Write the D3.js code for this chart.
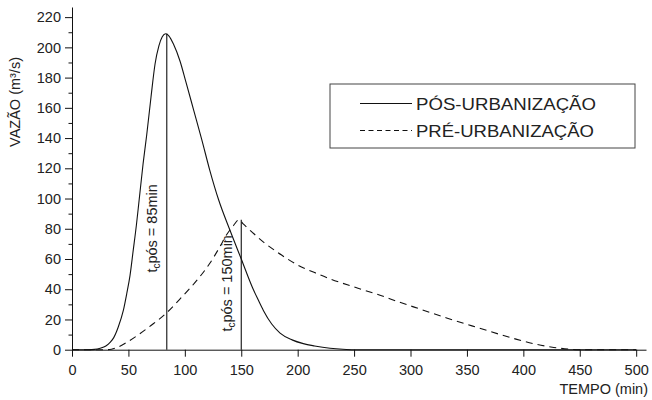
<!DOCTYPE html>
<html>
<head>
<meta charset="utf-8">
<script src="https://cdn.jsdelivr.net/npm/d3@7"></script>
<style>
body { margin: 0; background: #fff; }
text { font-family: "Liberation Sans", Arial, sans-serif; fill: #222; }
</style>
</head>
<body>
<script>
// hidrograma pos-urbanizacao (linha cheia)
var posTime = [0, 15, 20, 25, 30, 34, 37, 41, 45.5, 48.5, 51.4, 54.3, 57, 59.5, 63, 66.2, 70, 73.6, 77, 80, 83,
    86, 90, 95.7, 101, 108, 115, 122, 130, 140, 150, 160, 165, 169.6, 177, 184.4, 195, 205, 215, 228.7, 240, 250, 500];
var posFlow = [0, 0, 0.2, 1, 2.5, 5, 8, 15, 26, 37, 49, 66, 82, 99, 123, 142, 167, 189, 201, 207, 209,
    207.5, 202, 191, 177, 158, 139, 119, 99, 79, 60, 41, 33, 26, 17, 11, 6.5, 4, 2.5, 1, 0.3, 0, 0];

// hidrograma pre-urbanizacao (tracejada)
var preTime = [0, 30, 35, 40, 50, 60, 70, 84, 95, 105, 113, 122, 131, 137, 143, 148,
    152, 160, 170, 180, 190, 200, 215, 230, 250, 273, 290, 310, 332, 360, 391, 410, 427, 440, 450, 500];
var preFlow = [0, 0, 0.3, 1.5, 5.5, 10.5, 16, 24.5, 33, 41, 48, 57, 68, 76, 82, 86,
    83, 77.5, 71, 65.5, 60.5, 56, 51, 46.5, 41.5, 36, 31.5, 26.5, 21, 14.5, 7.5, 3.8, 1.5, 0.4, 0, 0];

// tempos de concentracao
var tcTime = [84, 150];
var tcTop = [209, 86];
var tcLabelAt = [51, 12];
var tcText = ["pós = 85min", "pós = 150min"];

var xTickValues = [0, 50, 100, 150, 200, 250, 300, 350, 400, 450, 500];
var yTickValues = [0, 20, 40, 60, 80, 100, 120, 140, 160, 180, 200, 220];
var yMinorValues = [10, 30, 50, 70, 90, 110, 130, 150, 170, 190, 210];
var seriesNames = ["PÓS-URBANIZAÇÃO", "PRÉ-URBANIZAÇÃO"];

var width = 652, height = 400;

var svg = d3.select("body").append("svg")
    .attr("width", width)
    .attr("height", height);

var x = d3.scaleLinear().domain([0, 508.7]).range([72, 646]);
var y = d3.scaleLinear().domain([0, 226.7]).range([349.7, 7]);

// eixos
var xAxis = svg.append("g")
    .attr("transform", "translate(0," + y(0) + ")")
    .call(d3.axisBottom(x).tickValues(xTickValues).tickSize(7).tickSizeOuter(0).tickPadding(8));

var yMinor = svg.append("g")
    .attr("transform", "translate(" + x(0) + ",0)")
    .call(d3.axisLeft(y).tickValues(yMinorValues).tickSize(3.5).tickFormat(""));
yMinor.select(".domain").remove();

var yAxis = svg.append("g")
    .attr("transform", "translate(" + x(0) + ",0)")
    .call(d3.axisLeft(y).tickValues(yTickValues).tickSize(7).tickSizeOuter(0).tickPadding(4));

svg.selectAll(".tick text")
    .style("font-size", "14.5px")
    .style("font-family", "'Liberation Sans', Arial, sans-serif")
    .attr("fill", "#222");
svg.selectAll(".domain, .tick line").attr("stroke", "#111");

// curvas
var line = d3.line()
    .x(function(d) { return x(d[0]); })
    .y(function(d) { return y(d[1]); })
    .curve(d3.curveMonotoneX);

svg.append("path")
    .datum(d3.zip(posTime, posFlow))
    .attr("d", line)
    .attr("fill", "none")
    .attr("stroke", "#111")
    .attr("stroke-width", 1.1);

svg.append("path")
    .datum(d3.zip(preTime, preFlow))
    .attr("d", line)
    .attr("fill", "none")
    .attr("stroke", "#111")
    .attr("stroke-width", 1.1)
    .attr("stroke-dasharray", "7,5");

// linhas verticais tc
for (var i = 0; i < tcTime.length; i++) {
    svg.append("line")
        .attr("x1", x(tcTime[i])).attr("x2", x(tcTime[i]))
        .attr("y1", y(0)).attr("y2", y(tcTop[i]))
        .attr("stroke", "#111")
        .attr("stroke-width", 1.1);

    var lbl = svg.append("text")
        .attr("transform", "translate(" + (x(tcTime[i]) - 9.5) + "," + y(tcLabelAt[i]) + ") rotate(-90)")
        .style("font-size", "14.5px");
    lbl.append("tspan").text("t");
    lbl.append("tspan").attr("dy", 3).style("font-size", "10px").text("c");
    lbl.append("tspan").attr("dy", -3).text(tcText[i]);
}

// titulos
svg.append("text")
    .attr("transform", "translate(20,102) rotate(-90)")
    .attr("text-anchor", "middle")
    .style("font-size", "14.5px")
    .text("VAZÃO (m³/s)");

svg.append("text")
    .attr("x", 648)
    .attr("y", 394)
    .attr("text-anchor", "end")
    .style("font-size", "14.5px")
    .text("TEMPO (min)");

// legenda
var legend = svg.append("g");
legend.append("rect")
    .attr("x", 330).attr("y", 84)
    .attr("width", 305).attr("height", 64)
    .attr("fill", "#fff")
    .attr("stroke", "#444");

var dashes = [null, "5,3.5"];
seriesNames.forEach(function(name, k) {
    var ly = 103.5 + k * 27;
    legend.append("line")
        .attr("x1", 360).attr("x2", 412)
        .attr("y1", ly).attr("y2", ly)
        .attr("stroke", "#111")
        .attr("stroke-width", 1.1)
        .attr("stroke-dasharray", dashes[k]);
    legend.append("text")
        .attr("x", 416)
        .attr("y", ly + 6)
        .attr("textLength", 180 - k * 2)
        .attr("lengthAdjust", "spacingAndGlyphs")
        .style("font-size", "17px")
        .text(name);
});
</script>
</body>
</html>
